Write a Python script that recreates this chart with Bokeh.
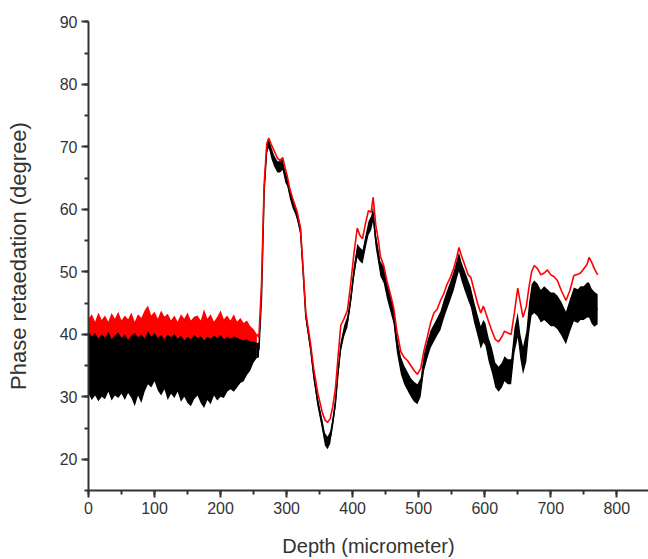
from bokeh.plotting import figure
from bokeh.models import Range1d, SingleIntervalTicker, ColumnDataSource
from bokeh.embed import file_html
from bokeh.resources import INLINE

# ---------------- data ----------------
# noisy region (0-255 micrometer): envelopes of the two signals
noisy_x = [0, 5, 10, 15, 20, 25, 30, 35, 40, 45,
           50, 55, 60, 65, 70, 75, 80, 85, 90, 95,
           100, 105, 110, 115, 120, 125, 130, 135, 140, 145,
           150, 155, 160, 165, 170, 175, 180, 185, 190, 195,
           200, 205, 210, 215, 220, 225, 230, 235, 240, 245,
           250, 255]
black_lo = [30.5, 29.5, 30.2, 29.3, 30.0, 29.6, 30.8, 29.4, 30.2, 29.8,
            30.5, 29.5, 30.6, 29.8, 28.5, 30.2, 29.0, 30.8, 32.0, 31.5,
            32.5, 31.0, 30.2, 31.2, 29.5, 30.5, 29.8, 30.8, 29.2, 30.0,
            29.0, 28.5, 29.6, 30.2, 29.0, 28.2, 29.5, 28.8, 30.2, 29.4,
            30.0, 29.8, 30.8, 31.2, 30.8, 31.5, 32.2, 32.5, 33.5, 34.2,
            35.5, 36.2]
black_hi = [40.5, 39.6, 40.2, 39.3, 40.0, 39.5, 40.4, 39.2, 39.8, 40.3,
            39.4, 40.0, 39.1, 39.8, 40.2, 39.5, 40.0, 39.3, 40.5, 39.6,
            40.2, 39.4, 39.9, 39.2, 40.0, 39.5, 40.1, 39.3, 39.8, 39.0,
            39.6, 39.2, 39.9, 39.4, 39.7, 39.0, 39.6, 39.3, 39.8, 39.4,
            39.9, 39.2, 39.6, 39.3, 39.7, 39.4, 39.2, 39.0, 39.2, 38.8,
            38.8, 38.6]
red_lo = [38.0] * 52
red_hi = [42.5, 43.2, 42.0, 43.5, 42.3, 43.0, 42.0, 43.4, 42.5, 43.6,
          42.2, 43.0, 42.4, 43.5, 42.0, 43.2, 42.6, 43.8, 44.6, 43.0,
          43.6, 42.5, 43.8, 42.8, 43.3, 42.2, 43.0, 42.0, 43.2, 42.5,
          43.5, 42.2, 42.8, 43.0, 42.2, 44.0, 42.5, 43.2, 42.0, 42.8,
          43.8, 42.4, 43.0, 42.2, 43.2, 42.0, 42.6, 41.8, 42.2, 41.3,
          40.8, 40.0]

# structured region (255-771 micrometer)
curve_x = [255, 258, 262, 266, 270, 273, 277, 281, 286, 290,
           294, 298, 301, 305, 309, 313, 316, 321, 325, 329,
           336, 341, 347, 354, 358, 362, 366, 370, 374, 378,
           382, 387, 392, 397, 402, 407, 411, 415, 419, 424,
           428, 431, 435, 439, 442, 447, 452, 457, 462, 467,
           473, 478, 483, 488, 493, 498, 503, 508, 513, 518,
           523, 528, 533, 538, 543, 548, 553, 558, 561, 565,
           570, 575, 579, 584, 589, 594, 598, 601, 606, 611,
           616, 621, 626, 630, 635, 640, 645, 650, 654, 658,
           663, 667, 671, 675, 680, 685, 690, 695, 700, 705,
           710, 716, 723, 729, 735, 741, 745, 750, 755, 758,
           762, 766, 771]
red_y = [40.0, 39.5, 48.0, 64.0, 70.5, 71.4, 70.3, 69.4, 68.2, 67.8,
         68.3, 66.5, 65.3, 63.2, 61.8, 60.5, 59.6, 57.0, 50.5, 43.5,
         38.7, 34.5, 30.7, 27.5, 26.3, 25.9, 26.5, 28.5, 31.4, 36.5,
         41.4, 42.5, 43.8, 48.0, 53.0, 57.0, 55.8, 55.3, 57.5, 59.8,
         59.5, 61.9, 57.5, 55.0, 52.5, 51.0, 48.5, 46.5, 44.3, 40.5,
         37.2, 36.3, 35.8, 35.0, 34.2, 33.6, 34.5, 37.4, 39.5, 41.8,
         43.4, 44.0, 45.4, 46.5, 48.0, 49.1, 50.5, 52.5, 53.9, 52.5,
         51.0, 49.5, 49.1, 47.0, 45.0, 43.4, 44.5, 43.6, 42.0, 40.5,
         39.2, 38.8, 39.6, 40.5, 40.2, 40.0, 43.5, 47.4, 45.0, 42.7,
         44.5, 47.5, 50.0, 51.0, 50.5, 49.5, 49.8, 50.3, 49.5, 49.2,
         48.6, 47.0, 45.4, 47.0, 49.4, 49.6, 49.8, 50.5, 51.2, 52.3,
         51.5, 50.5, 49.5]
black_y = [37.4, 37.5, 46.0, 63.0, 69.8, 70.6, 69.0, 67.8, 66.8, 66.8,
           67.2, 65.2, 64.5, 62.5, 61.0, 60.0, 59.0, 56.6, 50.0, 43.0,
           38.0, 33.5, 29.2, 25.5, 23.2, 22.6, 23.5, 26.0, 29.1, 34.0,
           38.0, 40.5, 42.0, 45.5, 50.0, 53.4, 52.8, 52.4, 54.5, 57.0,
           57.8, 59.3, 55.0, 52.5, 50.5, 49.5, 47.0, 45.0, 43.0, 38.5,
           35.0, 33.5, 32.5, 31.5, 30.8, 30.4, 31.5, 35.5, 37.5, 39.2,
           40.2, 41.2, 42.2, 44.0, 45.5, 47.0, 48.5, 50.5, 51.6, 50.0,
           48.5, 47.0, 45.9, 43.5, 41.5, 39.5, 40.5, 40.0, 37.5, 35.8,
           33.5, 32.8, 33.5, 34.5, 34.0, 34.0, 39.0, 41.5, 38.0, 35.8,
           38.0, 42.5, 45.5, 46.0, 45.5, 44.5, 45.0, 44.5, 44.0, 44.0,
           43.5, 42.5, 41.0, 43.0, 44.8, 44.5, 45.0, 45.0, 45.5, 45.5,
           44.5, 44.0, 44.0]
black_half = [1.2, 1.2, 0.8, 0.8, 0.8, 0.8, 0.9, 0.9, 0.9, 0.9,
              0.9, 0.9, 0.8, 0.8, 0.8, 0.8, 0.8, 0.8, 0.7, 0.7,
              0.8, 0.8, 0.8, 0.9, 1.0, 1.0, 1.0, 0.9, 0.9, 0.8,
              0.8, 0.9, 0.9, 0.9, 1.0, 1.1, 1.1, 1.1, 1.1, 1.1,
              1.1, 1.2, 1.2, 1.2, 1.2, 1.3, 1.3, 1.3, 1.3, 1.4,
              1.4, 1.5, 1.5, 1.5, 1.6, 1.6, 1.5, 1.4, 1.4, 1.4,
              1.4, 1.4, 1.5, 1.5, 1.5, 1.5, 1.5, 1.5, 1.5, 1.5,
              1.6, 1.6, 1.6, 1.7, 1.7, 1.8, 1.8, 1.8, 1.9, 2.0,
              2.0, 2.0, 2.0, 2.0, 2.0, 2.0, 2.0, 2.0, 2.0, 2.2,
              2.4, 2.5, 2.5, 2.6, 2.6, 2.6, 2.7, 2.7, 2.7, 2.7,
              2.7, 2.7, 2.6, 2.6, 2.7, 2.7, 2.7, 2.7, 2.8, 2.8,
              2.8, 2.8, 2.4]

x_label = "Depth (micrometer)"
y_label = "Phase retaedation (degree)"

# ---------------- figure ----------------
p = figure(width=648, height=559,
           x_range=Range1d(0, 848), y_range=Range1d(15, 90.05),
           output_backend="svg", toolbar_location=None,
           min_border_left=88, min_border_right=0,
           min_border_top=21, min_border_bottom=68)
p.outline_line_color = None
p.grid.visible = False
p.background_fill_color = "white"
p.border_fill_color = "white"

noisy = ColumnDataSource(dict(x=noisy_x, blo=black_lo, bhi=black_hi,
                              rlo=red_lo, rhi=red_hi))
curve = ColumnDataSource(dict(
    x=curve_x, red=red_y, black=black_y,
    lo=[c - h for c, h in zip(black_y, black_half)],
    hi=[c + h for c, h in zip(black_y, black_half)]))

p.varea(x="x", y1="rlo", y2="rhi", source=noisy, fill_color="#ff0000")
p.varea(x="x", y1="blo", y2="bhi", source=noisy, fill_color="#000000")
p.varea(x="x", y1="lo", y2="hi", source=curve, fill_color="#000000")
p.line(x="x", y="black", source=curve, line_color="#000000", line_width=1.5)
p.line(x="x", y="red", source=curve, line_color="#ff0000", line_width=1.6)

p.xaxis.ticker = SingleIntervalTicker(interval=100, num_minor_ticks=2)
p.yaxis.ticker = SingleIntervalTicker(interval=10, num_minor_ticks=2)
p.xaxis.axis_label = x_label
p.yaxis.axis_label = y_label

for ax in (p.xaxis, p.yaxis):
    ax.axis_line_color = "#333333"
    ax.axis_line_width = 2
    ax.major_tick_line_color = "#333333"
    ax.minor_tick_line_color = "#333333"
    ax.major_tick_line_width = 2
    ax.minor_tick_line_width = 2
    ax.major_tick_in = 0
    ax.minor_tick_in = 0
    ax.major_tick_out = 7
    ax.minor_tick_out = 4
    ax.major_label_text_font = "Liberation Sans"
    ax.major_label_text_font_size = "16px"
    ax.major_label_text_color = "#333333"
    ax.axis_label_text_font = "Liberation Sans"
    ax.axis_label_text_font_style = "normal"
    ax.axis_label_text_color = "#333333"

p.xaxis.major_label_standoff = 4
p.yaxis.major_label_standoff = 4
p.xaxis.axis_label_text_font_size = "20px"
p.yaxis.axis_label_text_font_size = "22px"
p.xaxis.axis_label_standoff = 18
p.yaxis.axis_label_standoff = 26

open("out.html", "w").write(file_html(p, INLINE))
